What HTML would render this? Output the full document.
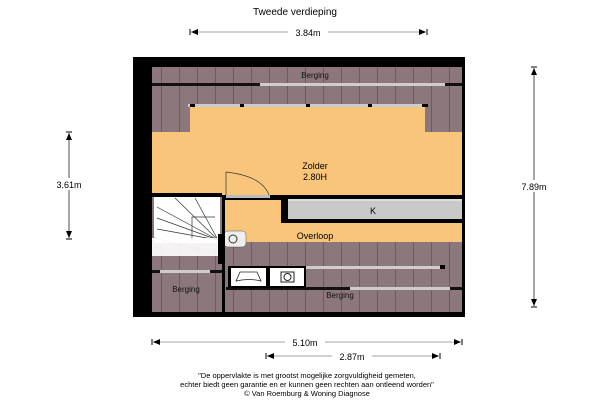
<!DOCTYPE html>
<html><head><meta charset="utf-8"><style>
html,body{margin:0;padding:0;background:#fff;width:600px;height:400px;overflow:hidden}
svg{display:block;font-family:"Liberation Sans",sans-serif}
</style></head><body>
<svg width="600" height="400" viewBox="0 0 600 400">
<defs>
<pattern id="pl" width="18" height="10" patternUnits="userSpaceOnUse">
<rect width="18" height="10" fill="#8c777c"/><line x1="17.5" y1="0" x2="17.5" y2="10" stroke="#6e5b60" stroke-width="1"/>
</pattern>
<marker id="a" viewBox="0 0 10 10" refX="10" refY="5" markerWidth="6" markerHeight="6" orient="auto-start-reverse"><path d="M0 1L10 5L0 9z" fill="#000"/></marker>
</defs>
<text x="295" y="15" font-size="10" text-anchor="middle">Tweede verdieping</text>
<!-- 3.84 -->
<line x1="191" y1="32" x2="426" y2="32" stroke="#888" stroke-width="0.7"/>
<path d="M190 29v6M427 29v6" stroke="#000"/><path d="M191 32l7-3v6zM426 32l-7-3v6z"/>
<rect x="288" y="26" width="40" height="12" fill="#fff"/><text x="308" y="36" font-size="9" text-anchor="middle">3.84m</text>
<!-- frame -->
<rect x="133" y="57" width="332" height="260" fill="#000"/>
<rect x="152" y="67" width="310" height="245" fill="url(#pl)"/>
<!-- top wall -->
<rect x="152" y="83" width="310" height="3" fill="#111"/>
<rect x="260" y="83" width="185" height="3" fill="#ccc"/>
<text x="315" y="78" font-size="8" text-anchor="middle" fill="#111">Berging</text>
<!-- orange -->
<path d="M190 106H425V132H462V195H152V132H190z" fill="#f9c57a"/>
<rect x="188" y="104" width="239" height="3" fill="#ccc"/>
<rect x="190" y="104" width="5" height="3" fill="#000"/><rect x="240" y="104" width="4" height="3" fill="#000"/><rect x="306" y="104" width="4" height="3" fill="#000"/><rect x="368" y="104" width="4" height="3" fill="#000"/><rect x="422" y="104" width="6" height="3" fill="#000"/>
<text x="315" y="169" font-size="9" text-anchor="middle">Zolder</text>
<text x="315" y="180" font-size="9" text-anchor="middle">2.80H</text>
<!-- door -->
<path d="M226 195V172Q262 176 269 195" fill="none" stroke="#333" stroke-width="0.7"/>
<!-- overloop -->
<path d="M222 195H462V268H442V242H267V268H222z" fill="#f9c57a"/>
<path d="M222 242H267V268H442V242H462V268" fill="none"/>
<rect x="225" y="242" width="42" height="26" fill="url(#pl)"/>
<rect x="442" y="242" width="20" height="26" fill="url(#pl)"/>
<rect x="222" y="195" width="60" height="5" fill="#000"/>
<rect x="226" y="195" width="44" height="3" fill="#bbb"/>
<rect x="152" y="193" width="70" height="4" fill="#000"/>
<!-- K -->
<rect x="281" y="195" width="181" height="28" fill="#000"/>
<rect x="288" y="201" width="174" height="18" fill="#c9c9c9"/>
<rect x="288" y="199" width="174" height="2" fill="#ddd"/>
<text x="373" y="214" font-size="9" text-anchor="middle">K</text>
<text x="315" y="239" font-size="9" text-anchor="middle">Overloop</text>
<!-- stairs -->
<rect x="154" y="197" width="66" height="46" fill="#fff"/>
<g stroke="#333" stroke-width="0.7" fill="none">
<line x1="218" y1="240" x2="175" y2="198"/><line x1="218" y1="240" x2="157" y2="207"/><line x1="218" y1="240" x2="157" y2="218"/><line x1="218" y1="240" x2="157" y2="229"/><line x1="218" y1="240" x2="195" y2="198"/>
<path d="M215 217H192V242"/><line x1="154" y1="238" x2="222" y2="255" stroke-dasharray="3 2"/>
</g>
<rect x="152" y="238" width="68" height="18" fill="#fff" opacity="0.9"/>
<rect x="218" y="234" width="4" height="30" fill="#000"/>
<rect x="224" y="231" width="22" height="16" rx="4" fill="#eee" stroke="#555" stroke-width="0.5"/>
<circle cx="233" cy="239" r="4" fill="none" stroke="#333"/>
<!-- bottom -->
<rect x="222" y="195" width="3" height="117" fill="#000"/>
<rect x="222" y="266" width="3" height="46" fill="#000"/>
<rect x="152" y="270" width="70" height="3" fill="#111"/>
<rect x="160" y="270" width="50" height="3" fill="#ccc"/>
<rect x="267" y="266" width="177" height="3" fill="#ccc"/>
<rect x="440" y="265" width="5" height="4" fill="#000"/>
<rect x="226" y="287" width="236" height="3" fill="#111"/>
<rect x="350" y="287" width="100" height="3" fill="#ccc"/>
<rect x="228" y="266" width="40" height="22" fill="#000"/>
<rect x="231" y="268" width="35" height="18" fill="#fff"/>
<path d="M236 281l4-9h17l4 9q-12 -3 -25 0z" fill="none" stroke="#222" stroke-width="0.8"/>
<rect x="268" y="266" width="38" height="22" fill="#000"/>
<rect x="270" y="268" width="34" height="18" fill="#fff"/>
<rect x="281" y="272" width="13" height="10" fill="none" stroke="#222"/><circle cx="287.5" cy="277" r="3.5" fill="none" stroke="#222"/>
<text x="186" y="292" font-size="8" text-anchor="middle" fill="#111">Berging</text>
<text x="340" y="298" font-size="8" text-anchor="middle" fill="#111">Berging</text>
<!-- 3.61 -->
<line x1="69" y1="133" x2="69" y2="238" stroke="#000" stroke-width="0.7"/>
<path d="M66 132h6M66 239h6" stroke="#000"/><path d="M69 133l-3 7h6zM69 238l-3-7h6z"/>
<rect x="48" y="178" width="42" height="12" fill="#fff"/><text x="69" y="188" font-size="9" text-anchor="middle">3.61m</text>
<!-- 7.89 -->
<line x1="534" y1="68" x2="534" y2="306" stroke="#000" stroke-width="0.7"/>
<path d="M531 67h6M531 307h6" stroke="#000"/><path d="M534 68l-3 7h6zM534 306l-3-7h6z"/>
<rect x="513" y="180" width="42" height="12" fill="#fff"/><text x="534" y="190" font-size="9" text-anchor="middle">7.89m</text>
<!-- 5.10 -->
<line x1="153" y1="342" x2="461" y2="342" stroke="#888" stroke-width="0.7"/>
<path d="M152 339v6M462 339v6" stroke="#000"/><path d="M153 342l7-3v6zM461 342l-7-3v6z"/>
<rect x="285" y="336" width="40" height="12" fill="#fff"/><text x="305" y="346" font-size="9" text-anchor="middle">5.10m</text>
<!-- 2.87 -->
<line x1="267" y1="356" x2="439" y2="356" stroke="#888" stroke-width="0.7"/>
<path d="M266 353v6M440 353v6" stroke="#000"/><path d="M267 356l7-3v6zM439 356l-7-3v6z"/>
<rect x="332" y="350" width="40" height="12" fill="#fff"/><text x="352" y="360" font-size="9" text-anchor="middle">2.87m</text>
<text x="307" y="378" font-size="7.5" text-anchor="middle">"De oppervlakte is met grootst mogelijke zorgvuldigheid gemeten,</text>
<text x="307" y="387" font-size="7.5" text-anchor="middle">echter biedt geen garantie en er kunnen geen rechten aan ontleend worden"</text>
<text x="307" y="396" font-size="7.5" text-anchor="middle">© Van Roemburg &amp; Woning Diagnose</text>
</svg>
</body></html>
